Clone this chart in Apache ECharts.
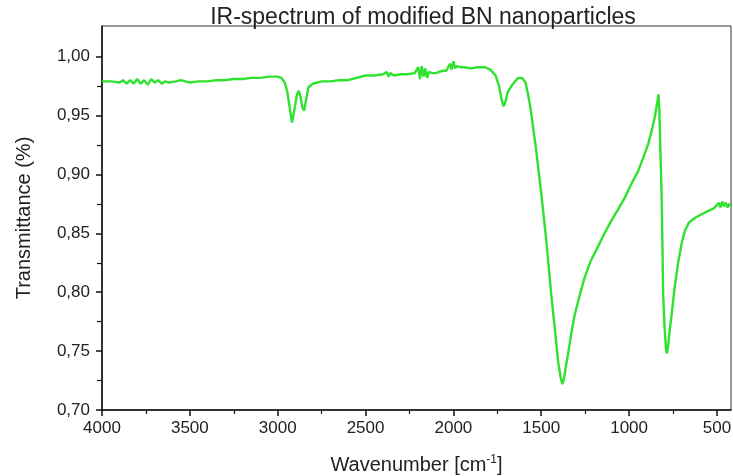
<!DOCTYPE html>
<html>
<head>
<meta charset="utf-8">
<script src="https://cdn.jsdelivr.net/npm/echarts@6/dist/echarts.min.js"></script>
<style>html,body{margin:0;padding:0;background:#fff}#c{width:733px;height:476px}</style>
</head>
<body>
<div id="c"></div>
<script>
// wavenumber [cm-1]
const wavenumbers = [4000,3950,3900,3880,3860,3840,3820,3800,3780,3760,3740,3720,3700,3680,3660,3640,3620,3580,3550,3500,3450,3400,3350,3300,3250,3200,3150,3100,3050,3000,2980,2960,2945,2930,2918,2905,2890,2880,2870,2860,2850,2840,2825,2800,2750,2700,2650,2600,2550,2500,2450,2400,2380,2370,2360,2340,2300,2260,2220,2200,2190,2180,2170,2160,2150,2140,2120,2100,2080,2060,2040,2020,2010,2000,1990,1980,1960,1940,1900,1860,1820,1790,1760,1740,1725,1715,1705,1690,1670,1650,1630,1610,1600,1590,1575,1560,1530,1500,1470,1443,1420,1404,1390,1380,1370,1360,1347,1330,1311,1280,1254,1220,1176,1140,1100,1060,1025,990,948,920,891,870,853,840,833,828,820,815,806,798,790,785,778,770,758,740,720,700,683,660,626,590,549,520,500,490,480,470,460,450,440,430,420];
// transmittance
const transmittance = [0.979,0.979,0.978,0.980,0.977,0.980,0.977,0.981,0.977,0.980,0.976,0.981,0.978,0.980,0.977,0.979,0.978,0.979,0.980,0.978,0.979,0.979,0.980,0.980,0.981,0.981,0.982,0.982,0.983,0.983,0.982,0.978,0.970,0.955,0.944,0.955,0.968,0.971,0.966,0.957,0.954,0.962,0.974,0.977,0.979,0.979,0.980,0.980,0.982,0.984,0.984,0.985,0.987,0.983,0.986,0.984,0.985,0.985,0.986,0.991,0.981,0.992,0.983,0.990,0.982,0.987,0.986,0.986,0.987,0.988,0.988,0.994,0.989,0.996,0.990,0.992,0.991,0.991,0.990,0.991,0.991,0.989,0.984,0.975,0.963,0.958,0.961,0.970,0.975,0.979,0.982,0.982,0.981,0.978,0.968,0.955,0.922,0.884,0.842,0.798,0.765,0.741,0.728,0.722,0.727,0.737,0.748,0.764,0.780,0.798,0.812,0.826,0.839,0.850,0.861,0.871,0.880,0.891,0.903,0.914,0.926,0.938,0.949,0.961,0.968,0.955,0.910,0.884,0.798,0.770,0.752,0.748,0.754,0.766,0.781,0.805,0.826,0.842,0.852,0.859,0.863,0.866,0.869,0.871,0.874,0.876,0.872,0.877,0.873,0.876,0.872,0.875,0.873];
const xMajorTicks = [4000,3500,3000,2500,2000,1500,1000,500];
const xMinorTicks = [3750,3250,2750,2250,1750,1250,750];
const yMajorTicks = [0.70,0.75,0.80,0.85,0.90,0.95,1.00];
const yMinorTicks = [0.725,0.775,0.825,0.875,0.925,0.975];

const FONT = '"Liberation Sans", Arial, sans-serif';
const data = wavenumbers.map((w, i) => [w, transmittance[i]]);
const chart = echarts.init(document.getElementById('c'), null, {renderer: 'canvas'});
const xCommon = {type: 'value', min: 420, max: 4000, inverse: true, splitLine: {show: false}};
const yCommon = {type: 'value', min: 0.70, max: 1.026, splitLine: {show: false}};
chart.setOption({
  animation: false,
  backgroundColor: '#fff',
  title: {
    text: 'IR-spectrum of modified BN nanoparticles',
    left: 418, top: 1, textAlign: 'center',
    textStyle: {fontFamily: FONT, fontSize: 23, fontWeight: 'normal', color: '#222'}
  },
  grid: {left: 102, right: 2, top: 26, bottom: 66, containLabel: false, outerBoundsMode: 'none',
    show: true, borderColor: '#333', borderWidth: 1, backgroundColor: 'transparent'},
  xAxis: [
    Object.assign({}, xCommon, {
      position: 'bottom',
      name: 'Wavenumber [cm{sup|-1}]',
      nameLocation: 'middle', nameGap: 44,
      nameTextStyle: {fontFamily: FONT, fontSize: 20, color: '#222',
        rich: {sup: {fontFamily: FONT, fontSize: 12, color: '#222', verticalAlign: 'top', padding: [0, 0, 10, 0]}}},
      axisLine: {show: true, lineStyle: {color: '#111', width: 1.5}},
      axisTick: {show: true, inside: false, length: 6, customValues: xMajorTicks, lineStyle: {color: '#111', width: 1.5}},
      axisLabel: {show: true, margin: 10, customValues: xMajorTicks, fontFamily: FONT, fontSize: 17, color: '#222',
        formatter: v => String(v)}
    }),
    Object.assign({}, xCommon, {
      position: 'bottom',
      axisLine: {show: false},
      axisTick: {show: true, inside: false, length: 4, customValues: xMinorTicks, lineStyle: {color: '#111', width: 1.2}},
      axisLabel: {show: false}
    })
  ],
  yAxis: [
    Object.assign({}, yCommon, {
      position: 'left',
      name: 'Transmittance (%)',
      nameLocation: 'middle', nameGap: 68,
      nameTextStyle: {fontFamily: FONT, fontSize: 20, color: '#222'},
      axisLine: {show: true, lineStyle: {color: '#111', width: 1.5}},
      axisTick: {show: true, inside: false, length: 6, customValues: yMajorTicks, lineStyle: {color: '#111', width: 1.5}},
      axisLabel: {show: true, margin: 12, customValues: yMajorTicks, fontFamily: FONT, fontSize: 17, color: '#222',
        formatter: v => v.toFixed(2).replace('.', ',')}
    }),
    Object.assign({}, yCommon, {
      position: 'left',
      axisLine: {show: false},
      axisTick: {show: true, inside: false, length: 5, customValues: yMinorTicks, lineStyle: {color: '#111', width: 1.2}},
      axisLabel: {show: false}
    })
  ],
  series: [{
    type: 'line', data: data, xAxisIndex: 0, yAxisIndex: 0,
    showSymbol: false, symbol: 'none', smooth: false,
    lineStyle: {color: '#2fe22f', width: 2.4},
    itemStyle: {color: '#2fe22f'}
  }]
});
</script>
</body>
</html>
